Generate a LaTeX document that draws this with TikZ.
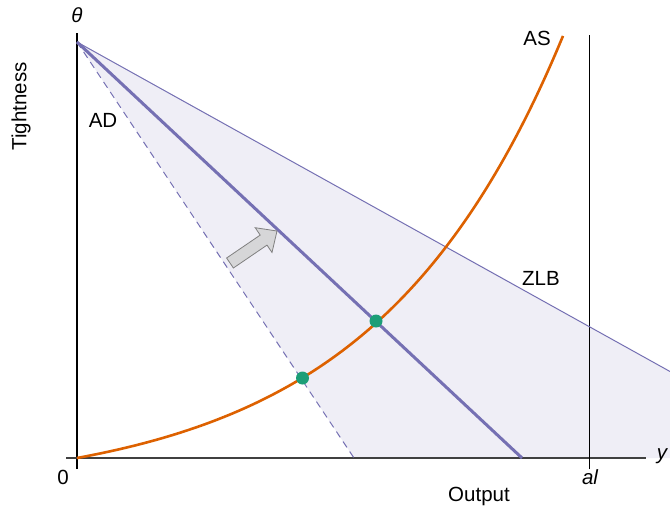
\documentclass[tikz,border=0pt]{standalone}
\usepackage{fontspec}
\setmainfont{Liberation Sans}
\definecolor{adcol}{HTML}{7570B3}
\definecolor{ascol}{HTML}{DD6100}
\definecolor{dotcol}{HTML}{1B9E77}
\definecolor{shadecol}{HTML}{EFEEF6}
\definecolor{arrfill}{HTML}{D6D6D8}
\begin{document}
\begin{tikzpicture}[x=1pt,y=-1pt,
  lbl/.style={font=\fontsize{20.5}{22}\selectfont, inner sep=0pt},
  mlbl/.style={font=\fontsize{20.5}{22}\selectfont\itshape, inner sep=0pt},
  axisline/.style={line width=1.3pt},
  eqdot/.style={circle, fill=dotcol, inner sep=0pt, minimum size=13pt}]
\useasboundingbox (0,0) rectangle (670,512);
% coordinates
\coordinate (apex) at (77,42);
\coordinate (zlbend) at (670,371.5);
\coordinate (corner) at (670,458);
\coordinate (dashend) at (354,458);
\coordinate (adend) at (522,458);
% shaded region
\fill[fill=shadecol] (apex) -- (zlbend) -- (corner) -- (dashend) -- cycle;
% axes
\draw[axisline, black] (77,469) -- (77,33);
\draw[axisline, black!75] (66,458) -- (646,458);
\draw[line width=1.1pt, black] (589.5,469) -- (589.5,35);
% ZLB line
\draw[adcol, line width=1pt] (apex) -- (zlbend);
% dashed AD
\draw[adcol, line width=1pt, dash pattern=on 7pt off 5pt] (apex) -- (dashend);
% AD solid
\draw[adcol, line width=3pt] (apex) -- (adend);
% block arrow
\draw[gray, fill=arrfill, line width=0.8pt, line join=miter]
  (233.4,268.0) -- (267.0,245.1) -- (272.0,252.5) -- (277,231) -- (255.2,227.7) -- (260.2,235.1) -- (226.6,258.0) -- cycle;
% AS curve
\draw[ascol, line width=2.6pt, line cap=butt] plot[domain=0:486, samples=120, smooth] ({77+\x},{458-34.86*(exp(0.0053*\x)-1)});
% dots
\node[eqdot] (e1) at (376,321) {};
\node[eqdot] (e2) at (302.5,378) {};
% labels
\node[mlbl] (theta) at (77,15) {θ};
\node[lbl, rotate=90] (tight) at (21,106.5) {Tightness};
\node[lbl] (ad) at (103,120) {AD};
\node[lbl] (as) at (537,38) {AS};
\node[lbl] (zlb) at (541,278) {ZLB};
\node[lbl] (zero) at (63,477.5) {0};
\node[mlbl] (al) at (590,477.5) {al};
\node[mlbl] (yl) at (662,456) {y};
\node[lbl] (out) at (479,496.5) {Output};
\end{tikzpicture}
\end{document}
